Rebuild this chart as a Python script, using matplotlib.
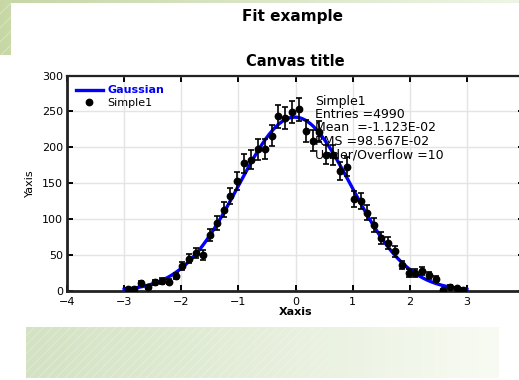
import numpy as np
import matplotlib
matplotlib.use("Agg")
import matplotlib.pyplot as plt
from matplotlib.colors import LinearSegmentedColormap
from matplotlib.lines import Line2D

# Histogram "Simple1": 50 bins on [-3, 3]
bin_lo, bin_hi, n_bins = -3.0, 3.0, 50
counts = [3, 3, 11, 5, 12, 14, 13, 21, 35, 45,
          53, 50, 78, 95, 113, 132, 153, 178, 183, 197,
          198, 216, 243, 241, 249, 253, 223, 209, 222, 190,
          189, 167, 173, 128, 125, 109, 92, 74, 67, 55,
          36, 25, 25, 28, 22, 17, 2, 6, 4, 2]

# Gaussian fit parameters (amplitude, mean, sigma)
fit_amp, fit_mean, fit_sigma = 242.0, -0.012, 0.985

stats_lines = ["Simple1", "Entries =4990", "Mean  =-1.123E-02",
               "RMS =98.567E-02", "Under/Overflow =10"]

x_ticks = [-4, -3, -2, -1, 0, 1, 2, 3]
y_ticks = [0, 50, 100, 150, 200, 250, 300]

W, H = 519, 380
fig = plt.figure(figsize=(W / 100, H / 100), dpi=100)
fig.patch.set_facecolor("white")

# ---- decorative page background (pixel coordinates) ----
bg = fig.add_axes([0, 0, 1, 1], zorder=-5)
bg.set_xlim(0, W)
bg.set_ylim(H, 0)
bg.axis("off")

def hgrad(x0, x1, y0, y1, c0, c1):
    cmap = LinearSegmentedColormap.from_list("g", [c0, c1])
    grad = np.linspace(0, 1, 256).reshape(1, -1)
    bg.imshow(grad, cmap=cmap, extent=(x0, x1, y1, y0), aspect="auto",
              interpolation="bilinear", zorder=0)

def stripes(x0, x1, y0, y1, step=9, alpha=0.35):
    for s in np.arange(x0 - (y1 - y0), x1, step):
        xs = np.array([s, s + (y1 - y0)])
        ys = np.array([y1, y0])
        line, = bg.plot(xs, ys, color="white", lw=0.6, alpha=alpha, zorder=1)
        line.set_clip_path(plt.Rectangle((x0, y0), x1 - x0, y1 - y0,
                                         transform=bg.transData))

hgrad(0, W, 0, 3, "#c6d7a6", "#eef5e6")
hgrad(0, 11, 0, 55, "#c6d6a4", "#c9d9a9")
stripes(0, 11, 0, 55, step=14, alpha=0.4)
hgrad(26, 499, 327, 378, "#d3e2c2", "#f8fbf3")
stripes(26, 330, 327, 378, step=9, alpha=0.3)

# ---- main plot ----
ax = fig.add_axes([67 / W, 1 - 291 / H, (524 - 67) / W, (291 - 75.5) / H])
ax.set_xlim(-4, 4)
ax.set_ylim(0, 300)

edges = np.linspace(bin_lo, bin_hi, n_bins + 1)
centers = 0.5 * (edges[:-1] + edges[1:])
counts_arr = np.array(counts, dtype=float)
errors = np.sqrt(counts_arr)

xf = np.linspace(bin_lo, bin_hi, 400)
yf = fit_amp * np.exp(-0.5 * ((xf - fit_mean) / fit_sigma) ** 2)
fit_line, = ax.plot(xf, yf, color="#0000ff", lw=2.4, zorder=3, label="Gaussian")

ax.errorbar(centers, counts_arr, yerr=errors, fmt="o", color="black",
            ms=4.6, elinewidth=1.2, capsize=2.2, capthick=1.2, zorder=4)
pts_handle = Line2D([], [], ls="none", marker="o", ms=4.6, color="black",
                    label="Simple1")

ax.set_xticks(x_ticks)
ax.set_yticks(y_ticks)
ax.grid(True, color="#e4e4e4", lw=1.0, zorder=0)
ax.set_axisbelow(True)
ax.tick_params(direction="in", top=True, right=True, length=4, width=1.4,
               labelsize=8, colors="black", pad=3)
ax.tick_params(axis="x", pad=4)
for side, lw in [("bottom", 2.0), ("left", 2.0), ("top", 1.6), ("right", 1.6)]:
    ax.spines[side].set_linewidth(lw)
    ax.spines[side].set_color("#222222")

ax.set_xlabel("Xaxis", fontsize=8, fontweight="bold", labelpad=0)
ax.set_ylabel("Yaxis", fontsize=8, labelpad=5)

leg = ax.legend(handles=[fit_line, pts_handle], loc="upper left",
                bbox_to_anchor=(0.0, 0.995), frameon=False, fontsize=8,
                handlelength=2.4, handletextpad=0.4, labelspacing=0.25,
                borderaxespad=0.4)
leg.get_texts()[0].set_color("#0000ff")
leg.get_texts()[0].set_fontweight("bold")

# statistics box text
for i, s in enumerate(stats_lines):
    fig.text(315 / W, 1 - (101 + 13.5 * i) / H, s, fontsize=9,
             ha="left", va="center", color="black", zorder=10)

fig.text(292 / W, 1 - 16 / H, "Fit example", fontsize=11, fontweight="bold",
         ha="center", va="center")
fig.text(295 / W, 1 - 62 / H, "Canvas title", fontsize=10.5, fontweight="bold",
         ha="center", va="center")

fig.savefig("out.png", dpi=100)
